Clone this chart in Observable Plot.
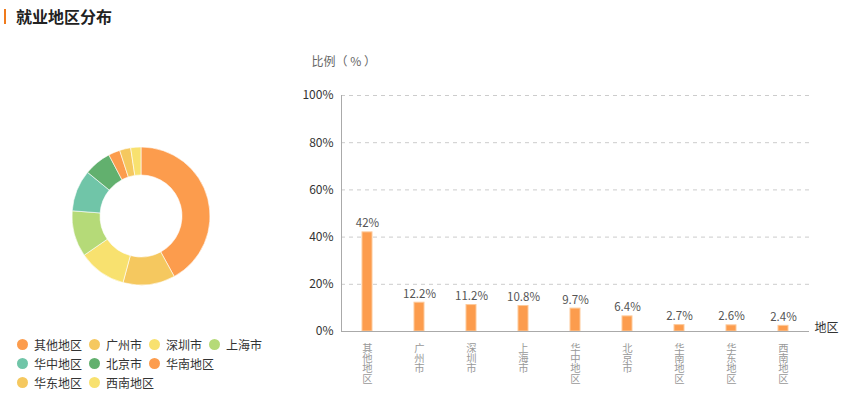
<!DOCTYPE html>
<html>
<head>
<meta charset="utf-8">
<script src="https://cdn.jsdelivr.net/npm/d3@7"></script>
<script src="https://cdn.jsdelivr.net/npm/@observablehq/plot@0.6"></script>
<style>
  body { margin: 0; background: #fff; font-family: "Noto Sans CJK SC", "Noto Sans", sans-serif; }
  #wrap { position: relative; width: 852px; height: 397px; overflow: hidden; }
  #chart { position: absolute; left: 0; top: 0; }
  #title { position: absolute; left: 4px; top: 7px; height: 18px; display: flex; align-items: center; }
  #title .bar { width: 2px; height: 15px; background: #f07b1d; margin-right: 10px; }
  #title .txt { font-size: 16px; font-weight: bold; color: #222; line-height: 18px; }
  #legend { position: absolute; left: 17px; top: 335px; font-size: 12px; color: #333; }
  .row { display: flex; height: 19px; align-items: center; }
  .item { display: flex; align-items: center; margin-right: 7px; }
  .dot { width: 11px; height: 11px; border-radius: 50%; margin-right: 6px; }
</style>
</head>
<body>
<div id="wrap">
  <div id="chart"></div>
  <div id="title"><div class="bar"></div><div class="txt">就业地区分布</div></div>
  <div id="legend"></div>
</div>
<script>
const categories = ["其他地区", "广州市", "深圳市", "上海市", "华中地区", "北京市", "华南地区", "华东地区", "西南地区"];
const values = [42, 12.2, 11.2, 10.8, 9.7, 6.4, 2.7, 2.6, 2.4];
const colors = ["#fc9c4d", "#f5c85f", "#f8e16f", "#b5da78", "#70c5a8", "#62b06e", "#fc9c4d", "#f5c85f", "#f8e16f"];
const yTicks = [0, 20, 40, 60, 80, 100];
const legendRows = [[0, 1, 2, 3], [4, 5, 6], [7, 8]];

const data = categories.map((c, i) => ({cat: c, value: values[i], color: colors[i]}));
const font = '"Noto Sans CJK SC", "Noto Sans", sans-serif';

function donut() {
  const g = d3.create("svg:g").attr("transform", "translate(141,216)");
  const pie = d3.pie().sort(null).value(d => d.value)(data);
  const arc = d3.arc().innerRadius(41).outerRadius(69);
  g.selectAll("path").data(pie).join("path")
    .attr("d", arc)
    .attr("fill", d => d.data.color)
    .attr("stroke", "#fff")
    .attr("stroke-width", 0.6);
  return g.node();
}

const chart = Plot.plot({
  width: 852,
  height: 397,
  marginLeft: 341,
  marginRight: 43,
  marginTop: 95,
  marginBottom: 66,
  style: {fontFamily: font, background: "transparent", overflow: "visible"},
  x: {domain: categories, paddingInner: 0.81, paddingOuter: 0.405, label: null},
  y: {domain: [0, 100], label: null},
  marks: [
    Plot.gridY(yTicks.slice(1), {stroke: "#ccc", strokeOpacity: 1, strokeDasharray: "4,4"}),
    Plot.axisY(yTicks, {tickSize: 0, tickPadding: 8, tickFormat: d => d + "%", fill: "#333", fontSize: 12, label: null}),
    Plot.axisX({tickSize: 0, tickPadding: 0, fill: "#999", fontSize: 10.3, label: null}),
    Plot.barY(data, {x: "cat", y: "value", fill: "#fc9c4d", stroke: "#fdc99a", strokeWidth: 1}),
    Plot.text(data, {x: "cat", y: "value", text: d => d.value + "%", lineAnchor: "bottom", dy: -5, fill: "#555", fontSize: 11.5}),
    Plot.ruleY([0], {stroke: "#aaa"}),
    Plot.frame({anchor: "left", stroke: "#aaa"}),
    Plot.text(["地区"], {frameAnchor: "bottom-right", textAnchor: "start", dx: 5, fill: "#333", fontSize: 12}),
    Plot.text(["比例（ % ）"], {frameAnchor: "top-left", textAnchor: "start", dx: -30, dy: -38, fill: "#666", fontSize: 12}),
    donut
  ]
});
// stack the x tick labels vertically, one character per line
d3.select(chart).selectAll('g[aria-label="x-axis tick label"] text')
  .attr("text-anchor", "start")
  .attr("dy", "4")
  .style("writing-mode", "vertical-rl")
  .style("text-orientation", "upright");
document.getElementById("chart").appendChild(chart);

const legend = document.getElementById("legend");
legendRows.forEach(row => {
  const r = document.createElement("div");
  r.className = "row";
  row.forEach(i => {
    const it = document.createElement("div");
    it.className = "item";
    it.innerHTML = `<div class="dot" style="background:${colors[i]}"></div><span>${categories[i]}</span>`;
    r.appendChild(it);
  });
  legend.appendChild(r);
});
</script>
</body>
</html>
